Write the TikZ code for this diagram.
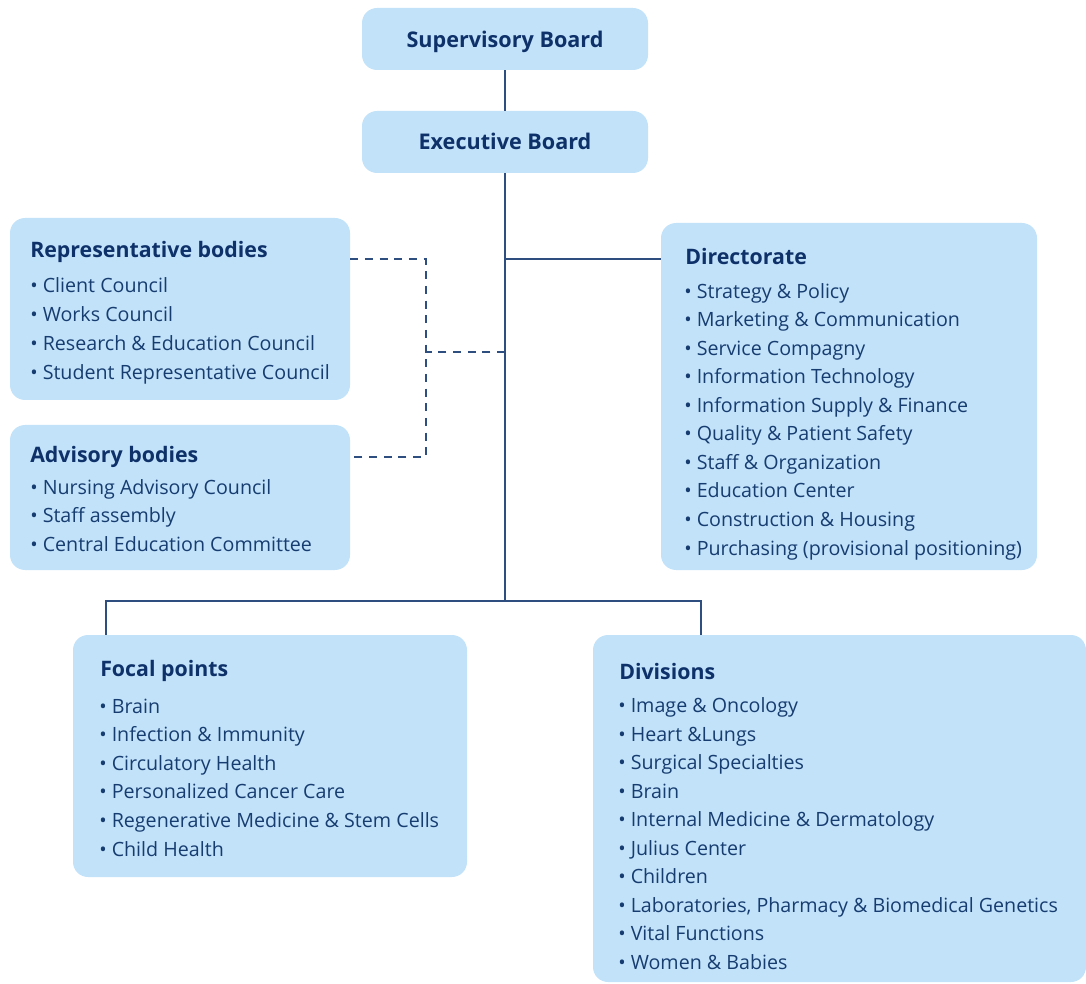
\documentclass[tikz,border=0pt]{standalone}
\usepackage{fontspec}
\setmainfont{Open Sans}
\usetikzlibrary{fit}
\definecolor{boxfill}{HTML}{C2E2FA}
\definecolor{navy}{HTML}{173D70}
\definecolor{titlenavy}{HTML}{0E3169}
\definecolor{linecol}{HTML}{2D4E7E}
\begin{document}
\begin{tikzpicture}[x=0.75pt,y=-0.75pt,
 box/.style={fill=boxfill, draw=none, rounded corners=11.25pt, inner sep=0pt},
 conn/.style={draw=linecol, line width=1.5pt},
 dconn/.style={draw=linecol, line width=1.5pt, dash pattern=on 6pt off 5pt},
 titletext/.style={anchor=base west, inner sep=0pt, text=titlenavy, font=\fontsize{16}{18}\selectfont\bfseries},
 boardtext/.style={anchor=base, inner sep=0pt, text=titlenavy, font=\fontsize{16.2}{18}\selectfont\bfseries},
 itemtext/.style={anchor=base west, inner sep=0pt, text=navy, font=\fontsize{14.75}{18}\selectfont},
 ]
\useasboundingbox (0,0) rectangle (1086,984);

% boxes
\node[box, fit={(362,8) (648,70)}] (sup) {};
\node[box, fit={(362,111) (648,173)}] (exe) {};
\node[box, fit={(10,218) (350,400)}] (rep) {};
\node[box, fit={(10,425) (350,570)}] (adv) {};
\node[box, fit={(661,223) (1037,570)}] (dir) {};
\node[box, fit={(73,635) (467,877)}] (foc) {};
\node[box, fit={(593,635) (1086,982)}] (div) {};

% board texts
\node[boardtext] (supt) at (505,48) {Supervisory Board};
\node[boardtext] (exet) at (505,150) {Executive Board};

% titles
\node[titletext] (rept) at (30,258) {Representative bodies};
\node[titletext] (advt) at (30,462.5) {Advisory bodies};
\node[titletext] (dirt) at (685,264.5) {Directorate};
\node[titletext] (foct) at (100,676.5) {Focal points};
\node[titletext] (divt) at (619,679) {Divisions};

% items
\foreach \t [count=\i] in {Client Council, Works Council, Research \& Education Council, Student Representative Council}
  \node[itemtext] (rep-\i) at (30,{264.3+28.7*\i}) {\textbullet\ \t};
\foreach \t [count=\i] in {Nursing Advisory Council, Staff assembly, Central Education Committee}
  \node[itemtext] (adv-\i) at (30,{465.3+28.7*\i}) {\textbullet\ \t};
\foreach \t [count=\i] in {Strategy \& Policy, Marketing \& Communication, Service Compagny, Information Technology, Information Supply \& Finance, Quality \& Patient Safety, Staff \& Organization, Education Center, Construction \& Housing, Purchasing (provisional positioning)}
  \node[itemtext] (dir-\i) at (684,{269.5+28.55*\i}) {\textbullet\ \t};
\foreach \t [count=\i] in {Brain, Infection \& Immunity, Circulatory Health, Personalized Cancer Care, Regenerative Medicine \& Stem Cells, Child Health}
  \node[itemtext] (foc-\i) at (99,{684.4+28.6*\i}) {\textbullet\ \t};
\foreach \t [count=\i] in {Image \& Oncology, Heart \&Lungs, Surgical Specialties, Brain, Internal Medicine \& Dermatology, Julius Center, Children, {Laboratories, Pharmacy \& Biomedical Genetics}, Vital Functions, Women \& Babies}
  \node[itemtext] (div-\i) at (618,{684.5+28.45*\i}) {\textbullet\ \t};

% junction coordinates
\coordinate (dirj) at (505,259);
\coordinate (dashj) at (505,352);
\coordinate (botj) at (505,601);
\coordinate (fl) at (106,601);
\coordinate (dl) at (701,601);
\coordinate (dtop) at (426,259);
\coordinate (dmid) at (426,352);
\coordinate (dbot) at (426,457);

% connectors
\draw[conn] (sup.south) -- (exe.north);
\draw[conn] (exe.south) -- (botj);
\draw[conn] (dirj) -- (dir.west |- dirj);
\draw[conn] (foc.north -| fl) -- (fl) -- (dl) -- (div.north -| dl);
\draw[dconn] (rep.east |- dtop) -- (dtop) -- (dbot) -- (adv.east |- dbot);
\draw[dconn] (dashj) -- (dmid);
\end{tikzpicture}
\end{document}
